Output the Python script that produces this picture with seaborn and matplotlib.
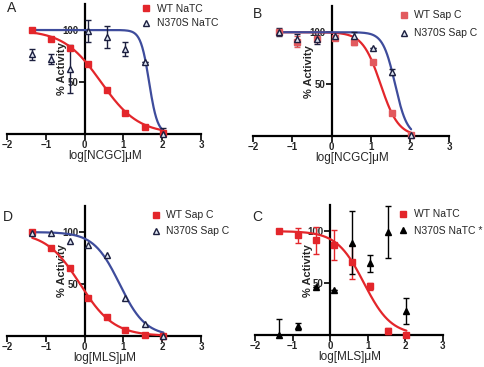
import numpy as np
import pandas as pd
import seaborn as sns
import matplotlib
matplotlib.use("Agg")
import matplotlib.pyplot as plt

# log10 dose (uM), 3-fold dilution from 100 uM
log_dose = [-1.35, -0.87, -0.38, 0.09, 0.57, 1.05, 1.55, 2.03]

# panel A : NCGC, NaTC
A_wt = [100, 91, 83, 67, 42, 20.5, 7, 1]
A_mut = [76.5, 72, 62.5, 99, 93.5, 81.5, 69.5, 0]
A_mut_err = [5, 5, 23.5, 11, 10.5, 6.5, 0, 6]

# panel B : NCGC, Sap C
B_wt = [100, 91, 93, 94, 91, 71, 22, 1]
B_wt_err = [0, 5, 0, 0, 3, 0, 0, 0]
B_mut = [100, 93, 93, 96.5, 96.5, 85, 62, 1]
B_mut_err = [4, 5, 4, 0, 4, 0, 3, 0]

# panel D : MLS, Sap C
D_wt = [100.5, 85, 65.5, 36.3, 18.6, 5.8, 1, 0]
D_mut = [99, 99, 91, 88, 78, 36.7, 11.6, 0]

# panel C : MLS, NaTC
C_wt = [100, 96, 91, 87, 70.5, 47, 4, 0]
C_wt_err = [2, 7, 13, 14.5, 16.5, 3.5, 3, 0]
C_mut = [0, 8.4, 46.6, 43, 89, 69, 99.4, 23]
C_mut_err = [15, 3.5, 0, 0, 30, 8.4, 25, 12.5]

# 4PL fit parameters: top, bottom, logIC50, hill
A_wt_fit = [100, 0, 0.42, 0.9]
A_mut_fit = [100, 0, 1.66, 4.0]
B_wt_fit = [100, 0, 1.25, 1.9]
B_mut_fit = [100, 0, 1.62, 2.8]
D_wt_fit = [100, 0, -0.12, 1.0]
D_mut_fit = [100, 0, 0.9, 1.3]
C_wt_fit = [100, 0, 0.9, 1.2]

RED = "#e3262b"
RED_B = "#e25a5e"
BLUE = "#3e4c9c"
NAVY = "#1c1f3f"
TRI_FACE = "#dfe6f3"

sns.set_style("ticks")
plt.rcParams["font.family"] = ["Liberation Sans", "DejaVu Sans"]


def fit_curve(params):
    top, bottom, logic50, hill = params
    x = np.linspace(log_dose[0], log_dose[-1], 200)
    y = bottom + (top - bottom) / (1 + 10 ** ((x - logic50) * hill))
    return pd.DataFrame({"x": x, "y": y})


def setup_axes(ax, xlabel):
    ax.set_xlim(-2, 3)
    ax.set_ylim(0, 125)
    ax.spines["left"].set_position(("data", 0))
    ax.spines["top"].set_visible(False)
    ax.spines["right"].set_visible(False)
    for s in ["left", "bottom"]:
        ax.spines[s].set_linewidth(1.6)
        ax.spines[s].set_color("black")
    ax.set_xticks([-2, -1, 0, 1, 2, 3])
    ax.set_yticks([50, 100])
    ax.tick_params(axis="both", width=1.4, length=4, labelsize=7, pad=0.5)
    for lab in ax.get_xticklabels() + ax.get_yticklabels():
        lab.set_fontweight("bold")
    ax.set_xlabel(xlabel, fontsize=8.5)
    ax.set_ylabel("% Activity", fontsize=8, fontweight="bold")
    ax.yaxis.set_label_coords(0.31, 0.5)
    ax.xaxis.set_label_coords(0.505, -0.125)


def draw_series(ax, y, err, fit, color, marker, face, edge, ms, label):
    if fit is not None:
        sns.lineplot(data=fit_curve(fit), x="x", y="y", ax=ax, color=color,
                     linewidth=1.6, legend=False, zorder=3)
    if err is not None:
        ax.errorbar(log_dose, y, yerr=err, fmt="none", ecolor=edge,
                    elinewidth=1.0, capsize=2.5, capthick=1.0, zorder=4)
    ax.plot(log_dose, y, linestyle="none", marker=marker, markersize=ms,
            markerfacecolor=face, markeredgecolor=edge, markeredgewidth=1.0,
            label=label, zorder=5, clip_on=False)


fig = plt.figure(figsize=(4.84, 3.67), dpi=100)
axA = fig.add_axes([0.0145, 0.635, 0.401, 0.354])
axB = fig.add_axes([0.523, 0.629, 0.405, 0.354])
axD = fig.add_axes([0.0145, 0.0845, 0.401, 0.354])
axC = fig.add_axes([0.527, 0.087, 0.388, 0.354])

# A
draw_series(axA, A_wt, None, A_wt_fit, RED, "s", RED, RED, 4.5, "WT NaTC")
draw_series(axA, A_mut, A_mut_err, A_mut_fit, BLUE, "^", TRI_FACE, NAVY, 5, "N370S NaTC")
setup_axes(axA, "log[NCGC]\u03bcM")

# B
draw_series(axB, B_wt, B_wt_err, B_wt_fit, RED, "s", RED_B, RED_B, 4.5, "WT Sap C")
draw_series(axB, B_mut, B_mut_err, B_mut_fit, BLUE, "^", TRI_FACE, NAVY, 5, "N370S Sap C")
setup_axes(axB, "log[NCGC]\u03bcM")

# D
draw_series(axD, D_wt, None, D_wt_fit, RED, "s", RED, RED, 4.5, "WT Sap C")
draw_series(axD, D_mut, None, D_mut_fit, BLUE, "^", TRI_FACE, NAVY, 5, "N370S Sap C")
setup_axes(axD, "log[MLS]\u03bcM")

# C
draw_series(axC, C_wt, C_wt_err, C_wt_fit, RED, "s", RED, RED, 4.5, "WT NaTC")
draw_series(axC, C_mut, C_mut_err, None, "black", "^", "black", "black", 4.5, "N370S NaTC *")
setup_axes(axC, "log[MLS]\u03bcM")

for ax, anchor, sp in [(axA, (0.675, 1.035), 0.45), (axB, (0.725, 1.0), 0.75),
                       (axD, (0.725, 1.0), 0.6), (axC, (0.745, 1.0), 0.6)]:
    ax.legend(loc="upper left", bbox_to_anchor=anchor, frameon=False,
              fontsize=7.5, handlelength=0.8, handletextpad=0.6,
              labelspacing=sp, borderaxespad=0)

for letter, x, y in [("A", 0.023, 0.978), ("B", 0.532, 0.962),
                     ("D", 0.017, 0.41), ("C", 0.532, 0.41)]:
    fig.text(x, y, letter, fontsize=10, va="center", ha="center")

fig.savefig("out.png", dpi=100)
